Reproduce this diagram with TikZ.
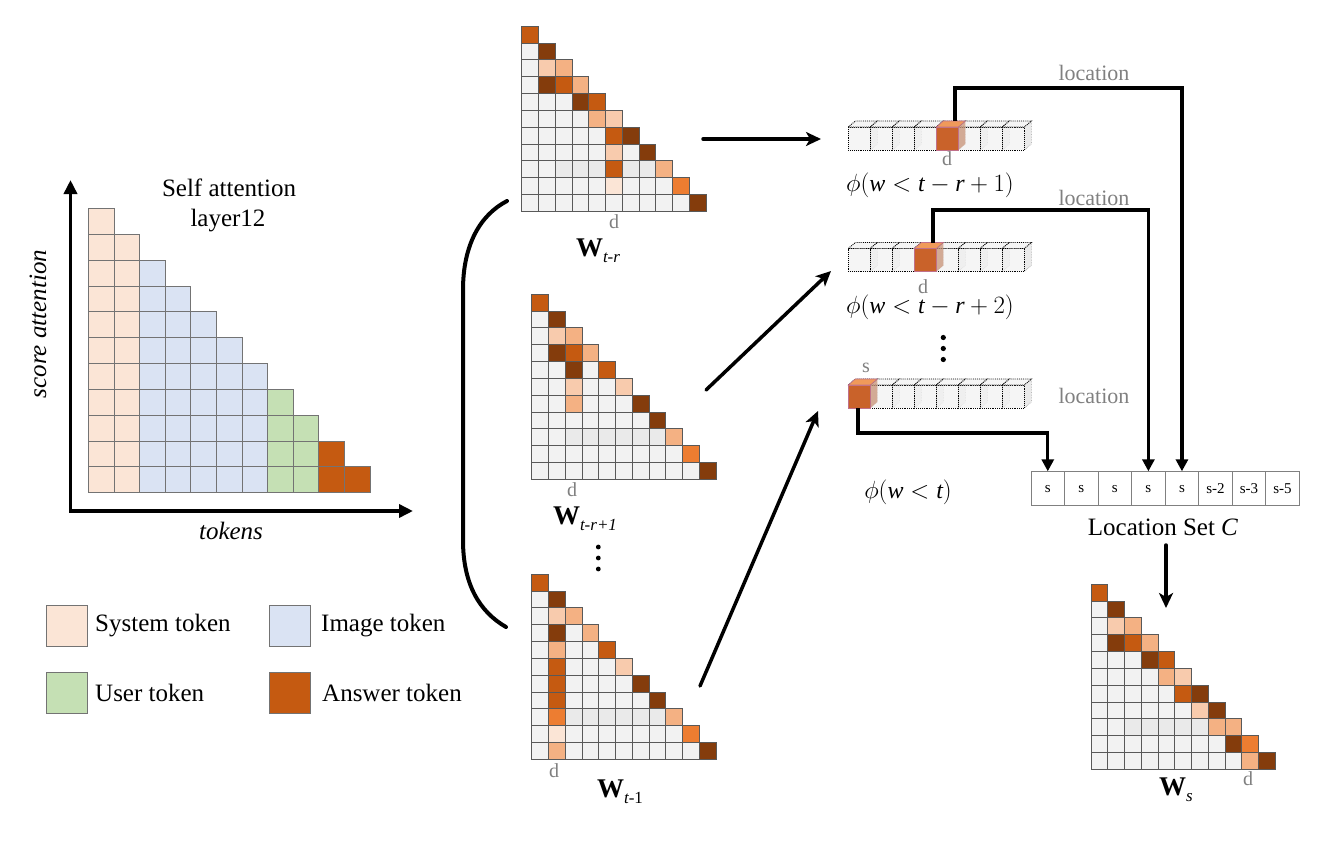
\documentclass[tikz,border=0pt]{standalone}
\usepackage{fontspec}
\setmainfont{Liberation Serif}
\usetikzlibrary{arrows.meta}
\definecolor{sys}{HTML}{FBE5D6}
\definecolor{img}{HTML}{DAE3F3}
\definecolor{usr}{HTML}{C5E0B4}
\definecolor{ans}{HTML}{C55A11}
\definecolor{ora}{HTML}{C55A11}
\definecolor{brn}{HTML}{843C0C}
\definecolor{lpe}{HTML}{F8CBAD}
\definecolor{mpe}{HTML}{F4B183}
\definecolor{bor}{HTML}{ED7D31}
\definecolor{vlp}{HTML}{FBE5D6}
\definecolor{gc}{HTML}{F2F2F2}
\definecolor{gcd}{HTML}{EAEAEA}
\definecolor{lbl}{HTML}{808080}
\definecolor{cfront}{HTML}{C9622A}
\definecolor{ctop}{HTML}{F09A5A}
\definecolor{csidec}{HTML}{C99478}
\definecolor{cedge}{HTML}{C0708A}
\tikzset{
  chartcell/.style={draw=black!55, line width=0.7pt},
  mcell/.style={draw=black!65, line width=0.7pt, fill=gc},
  bigarrow/.style={line width=3.5pt, line cap=round, -{Stealth[length=15pt,width=14pt,inset=4pt]}},
  conn/.style={line width=3.2pt, -{Triangle[length=12pt,width=12pt]}},
  axisline/.style={line width=3.5pt, {Triangle[length=14pt,width=13pt]}-{Triangle[length=14pt,width=13pt]}},
  gtxt/.style={text=lbl, font=\fontsize{22}{24}\selectfont, inner sep=0pt},
  dtxt/.style={text=lbl, font=\fontsize{20}{22}\selectfont, inner sep=0pt},
  maintxt/.style={font=\fontsize{25}{28}\selectfont, inner sep=0pt},
  wtxt/.style={font=\fontsize{27}{30}\selectfont, inner sep=0pt},
  phitxt/.style={font=\fontsize{24}{28}\selectfont, inner sep=0pt},
  lcell/.style={draw=black!50, line width=0.8pt, minimum width=33.54pt, minimum height=34pt, inner sep=0pt, font=\fontsize{15}{16}\selectfont},
  legbox/.style={draw=black!55, line width=0.8pt, minimum size=41pt, inner sep=0pt},
  cubeside/.style={fill=black!18, fill opacity=0.45, draw=black!40, densely dotted, line width=0.6pt},
  cubefront/.style={fill=gc, fill opacity=0.75, draw=black, densely dotted, line width=0.9pt},
  cubetop/.style={fill=white!96!black, draw=black, densely dotted, line width=0.9pt},
}
% attention matrix: x0, y0, list of row/col/colour
\newcommand\attmat[3]{%
  \foreach \rr in {0,...,10}{\foreach \cc in {0,...,\rr}{%
    \draw[mcell] ({#1+\cc*16.75},{#2+\rr*16.85}) rectangle ++(16.75,16.85);}}
  \foreach \cc in {2,...,7}{\draw[mcell,fill=gcd] ({#1+\cc*16.75},{#2+8*16.85}) rectangle ++(16.75,16.85);}
  \foreach \rr/\cc/\col in {#3}{%
    \draw[mcell,fill=\col] ({#1+\cc*16.75},{#2+\rr*16.85}) rectangle ++(16.75,16.85);}
}
% row of 8 cubes: x0, front top y, coloured index
\newcommand\cuberow[3]{%
  \foreach \i in {0,...,7}{\pgfmathsetmacro\xa{#1+22*\i}
    \draw[cubeside] (\xa+22,#2) -- (\xa+29,#2-6) -- (\xa+29,#2+17) -- (\xa+22,#2+23) -- cycle;}
  \foreach \i in {0,...,7}{\pgfmathsetmacro\xa{#1+22*\i}
    \draw[cubefront] (\xa,#2) rectangle (\xa+22,#2+23);}
  \foreach \i in {0,...,7}{\pgfmathsetmacro\xa{#1+22*\i}
    \draw[cubetop] (\xa,#2) -- (\xa+7,#2-6) -- (\xa+29,#2-6) -- (\xa+22,#2) -- cycle;}
  \pgfmathsetmacro\xk{#1+22*#3}
  \fill[csidec, fill opacity=0.75] (\xk+22,#2) -- (\xk+29,#2-6) -- (\xk+29,#2+17) -- (\xk+22,#2+23) -- cycle;
  \draw[cedge, line width=0.8pt, fill=cfront] (\xk,#2) rectangle (\xk+22,#2+23);
  \draw[cedge, line width=0.6pt, fill=ctop] (\xk,#2) -- (\xk+7,#2-6) -- (\xk+29,#2-6) -- (\xk+22,#2) -- cycle;
}
\newcommand\mv[1]{\textit{#1}}
\begin{document}
\begin{tikzpicture}[x=1pt,y=-1pt]
\useasboundingbox[fill=white] (0,0) rectangle (1329,846);

% ---------- left chart ----------
\foreach \cc/\col in {0/sys,1/sys,2/img,3/img,4/img,5/img,6/img,7/usr,8/usr,9/ans,10/ans}{
  \foreach \rr in {\cc,...,10}{
    \draw[chartcell,fill=\col] ({88.3+\cc*25.6},{208.3+\rr*25.85}) rectangle ++(25.6,25.85);}}
\coordinate (axtop) at (70.5,180);
\coordinate (axorg) at (70.5,511);
\coordinate (axright) at (413,511);
\draw[axisline] (axtop) -- (axorg) -- (axright);
\node[maintxt] (title1) at (229,188) {Self attention};
\node[maintxt] (title2) at (228,221) {layer12};
\node[maintxt, rotate=90] (ylab) at (38,324) {\itshape score attention};
\node[maintxt] (xlab) at (231,531) {\itshape tokens};

% legend
\node[legbox, fill=sys] (lg1) at (66.5,626) {};
\node[maintxt, anchor=west] (lt1) at (95,626) {System token};
\node[legbox, fill=img] (lg2) at (289.5,626) {};
\node[maintxt, anchor=west] (lt2) at (321,626) {Image token};
\node[legbox, fill=usr] (lg3) at (66.5,693) {};
\node[maintxt, anchor=west] (lt3) at (95,693) {User token};
\node[legbox, fill=ans] (lg4) at (289.5,693) {};
\node[maintxt, anchor=west] (lt4) at (322,693) {Answer token};

% ---------- bracket ----------
\draw[line width=4pt, line cap=round] (507,201) .. controls (480,215) and (463,245) .. (463,290) -- (463,540) .. controls (463,585) and (480,612) .. (506,627);

% ---------- matrices ----------
\attmat{521.7}{26}{0/0/ora,1/1/brn,2/1/lpe,2/2/mpe,3/1/brn,3/2/ora,3/3/mpe,4/3/brn,4/4/ora,5/4/mpe,5/5/lpe,6/5/ora,6/6/brn,7/5/lpe,7/7/brn,8/5/ora,8/8/mpe,9/5/vlp,9/9/bor,10/10/brn}
\node[dtxt] (dm1) at (614,222) {d};
\node[wtxt] (wm1) at (598,251) {\textbf{W}\raisebox{-6pt}{\fontsize{17}{17}\selectfont\itshape t-r}};

\attmat{531.7}{294}{0/0/ora,1/1/brn,2/1/lpe,2/2/mpe,3/1/brn,3/2/ora,3/3/mpe,4/2/brn,4/4/ora,5/2/lpe,5/5/lpe,6/2/mpe,6/6/brn,7/7/brn,8/8/mpe,9/9/bor,10/10/brn}
\node[dtxt] (dm2) at (572,490) {d};
\node[wtxt] (wm2) at (585,519) {\textbf{W}\raisebox{-6pt}{\fontsize{17}{17}\selectfont\itshape t-r+1}};

\fill (598.3,547) circle (2.4pt) (598.3,558) circle (2.4pt) (598.3,569) circle (2.4pt);

\attmat{531.7}{574}{0/0/ora,1/1/brn,2/1/lpe,2/2/mpe,3/1/brn,3/3/mpe,4/1/mpe,4/4/ora,5/1/ora,5/5/lpe,6/1/ora,6/6/brn,7/1/ora,7/7/brn,8/1/bor,8/8/mpe,9/1/vlp,9/9/bor,10/1/mpe,10/10/brn}
\node[dtxt] (dm3) at (554,771) {d};
\node[wtxt] (wm3) at (620,792) {\textbf{W}\raisebox{-6pt}{\fontsize{17}{17}\selectfont\itshape t-}\raisebox{-6pt}{\fontsize{17}{17}\selectfont 1}};

\attmat{1091}{584}{0/0/ora,1/1/brn,2/1/lpe,2/2/mpe,3/1/brn,3/2/ora,3/3/mpe,4/3/brn,4/4/ora,5/4/mpe,5/5/lpe,6/5/ora,6/6/brn,7/6/lpe,7/7/brn,8/7/mpe,8/8/mpe,9/8/brn,9/9/bor,10/9/mpe,10/10/brn}
\node[dtxt] (dm4) at (1248,779) {d};
\node[wtxt] (wm4) at (1176,790) {\textbf{W}\raisebox{-6pt}{\fontsize{17}{17}\selectfont\itshape s}};

% ---------- cube rows ----------
\cuberow{848.3}{127}{4}
\coordinate (v1) at (955,121);
\node[dtxt] (dv1) at (947,159) {d};
\node[phitxt] (phi1) at (930,185) {$\phi\bigl(\mv{w}<\mv{t}-\mv{r}+1\bigr)$};

\cuberow{848.3}{248.5}{3}
\coordinate (v2) at (933,243);
\node[dtxt] (dv2) at (923,287) {d};
\node[phitxt] (phi2) at (930,307) {$\phi\bigl(\mv{w}<\mv{t}-\mv{r}+2\bigr)$};

\fill (943.3,337.5) circle (2.6pt) (943.3,348.5) circle (2.6pt) (943.3,359.5) circle (2.6pt);

\cuberow{848.3}{385}{0}
\coordinate (v3) at (858,408);
\node[dtxt] (sv3) at (866,368) {s};
\node[phitxt] (phi3) at (908,492) {$\phi\bigl(\mv{w}<\mv{t}\bigr)$};

\node[gtxt] (loc1) at (1094,73) {location};
\node[gtxt] (loc2) at (1094,198) {location};
\node[gtxt] (loc3) at (1094,396) {location};

% ---------- location set ----------
\foreach \i/\t in {0/s,1/s,2/s,3/s,4/s,5/s-2,6/s-3,7/s-5}{
  \node[lcell] (L\i) at ({1031+33.54*(\i+0.5)},488.7) {\t};}
\node[maintxt] (lsc) at (1163,527) {Location Set \textit{C}};

% ---------- connectors ----------
\coordinate (k1) at (955,88);
\coordinate (k2) at (933,210);
\coordinate (k3) at (858,433);
\draw[conn] (v1) -- (k1) -| (L4.north);
\draw[conn] (v2) -- (k2) -| (L3.north);
\draw[conn] (v3) -- (k3) -| (L0.north);

\coordinate (a1s) at (703,139);
\coordinate (a1e) at (821,139);
\coordinate (a2s) at (706,390);
\coordinate (a2e) at (831,271);
\coordinate (a3s) at (700,686);
\coordinate (a3e) at (818,411);
\draw[bigarrow] (a1s) -- (a1e);
\draw[bigarrow] (a2s) -- (a2e);
\draw[bigarrow] (a3s) -- (a3e);

\coordinate (lsb) at (1166,545);
\coordinate (wst) at (1166,608);
\draw[bigarrow] (lsb) -- (wst);
\end{tikzpicture}
\end{document}
